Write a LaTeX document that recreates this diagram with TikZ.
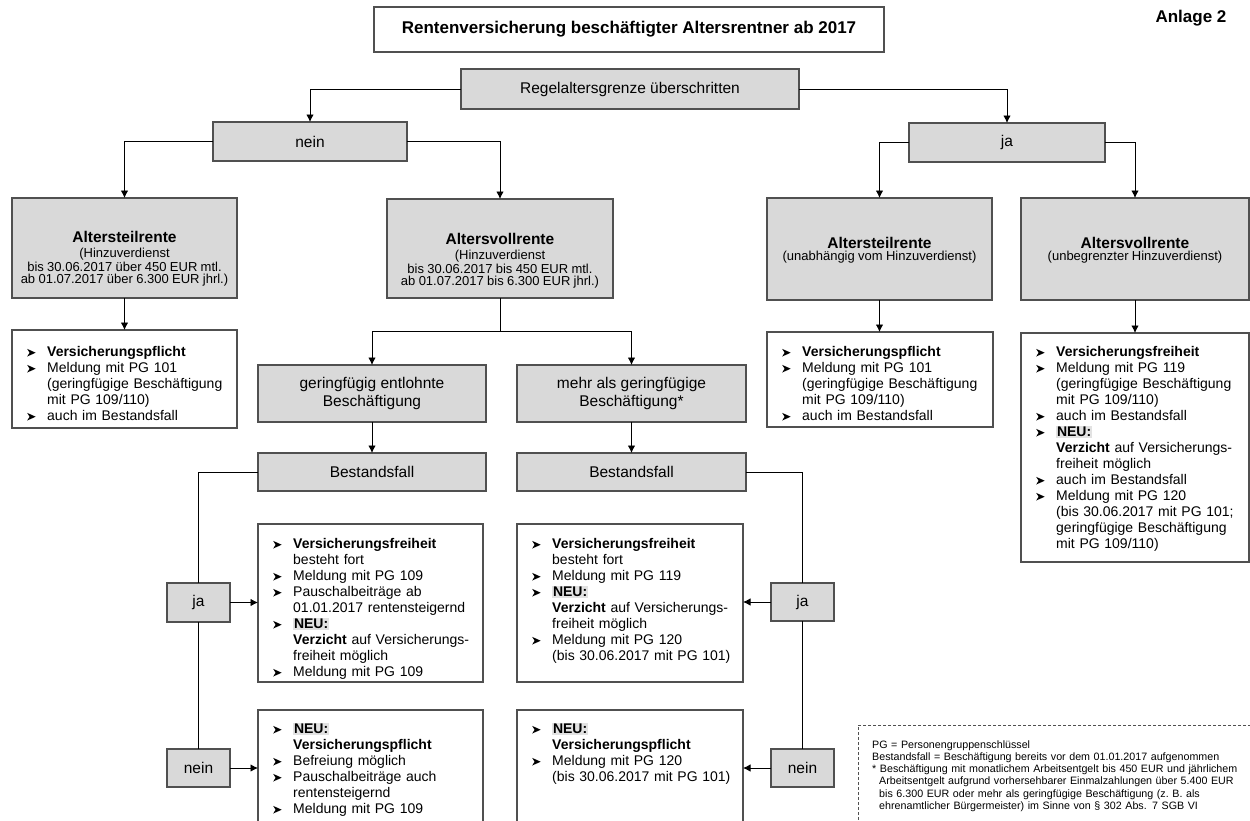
\documentclass[tikz,border=0pt]{standalone}
\usepackage{fontspec}
\setmainfont{Liberation Sans}
\usetikzlibrary{arrows.meta,calc}
\definecolor{boxgray}{HTML}{D9D9D9}
\definecolor{neugray}{HTML}{E2E2E2}
\definecolor{bord}{HTML}{505050}
\newcommand\mybul{\tikz[x=1pt,y=1pt,baseline=0pt]\fill[black] (0,0.2)--(8.5,4)--(0,7.8)--(2.4,4)--cycle;}
\newcommand\nl{\unskip\nobreak\hfil\break}
\newcommand\itm{\par\hangindent=20pt\hangafter=1\noindent\rule{0pt}{11pt}\makebox[20pt][l]{\mybul}}
\newcommand\neu{{\setlength\fboxsep{0.8pt}\colorbox{neugray}{\textbf{NEU:}}}}
\begin{document}
\begin{tikzpicture}[x=1pt,y=-1pt,
  bx/.style={draw=bord, line width=1.2pt, inner sep=0pt, outer sep=0pt},
  gbox/.style={bx, fill=boxgray, font=\fontsize{15.5}{18}\selectfont, align=center},
  wbox/.style={bx, fill=white},
  sub/.style={inner sep=0pt, text width=222pt, align=center},
  lst/.style={anchor=north west, inner sep=0pt, text width=215pt, align=left, font=\fontsize{14}{16}\selectfont},
  conn/.style={draw=black, line width=0.9pt, -{Latex[length=7.5pt,width=7.5pt]}},
  ln/.style={draw=black, line width=0.9pt}
]
\useasboundingbox (0,0) rectangle (1250,820);
\fill[white] (0,0) rectangle (1250,820);
\clip (0,0) rectangle (1250,820);

% title
\node[wbox, minimum width=510pt, minimum height=45pt, font=\fontsize{17}{20}\selectfont\bfseries] (T) at (629,29.5) {Rentenversicherung beschäftigter Altersrentner ab 2017};
\node[inner sep=0pt, font=\fontsize{17}{20}\selectfont\bfseries] (anl) at (1191,18) {Anlage 2};

% top decision
\node[gbox, minimum width=338pt, minimum height=40pt] (R) at (630,89) {Regelaltersgrenze überschritten};
\node[gbox, minimum width=194pt, minimum height=39pt] (nein) at (310,141.5) {nein};
\node[gbox, minimum width=196pt, minimum height=39pt] (ja) at (1007,142.5) {ja};

% second row
\node[gbox, minimum width=225pt, minimum height=100pt] (A) at (124.5,248) {};
\node[sub] (At) at (124.5,259) {{\fontsize{15.5}{15}\selectfont\bfseries Altersteilrente\par}
\fontsize{13}{14.5}\selectfont (Hinzuverdienst\\bis 30.06.2017 über 450 EUR mtl.\\ab 01.07.2017 über 6.300 EUR jhrl.)};
\node[gbox, minimum width=226pt, minimum height=99pt] (B) at (500,248.5) {};
\node[sub] (Bt) at (500,261) {{\fontsize{15.5}{15}\selectfont\bfseries Altersvollrente\par}
\fontsize{13}{14.5}\selectfont (Hinzuverdienst\\bis 30.06.2017 bis 450 EUR mtl.\\ab 01.07.2017 bis 6.300 EUR jhrl.)};
\node[gbox, minimum width=225pt, minimum height=102pt] (C) at (879.5,249) {};
\node[sub] (Ct) at (879.5,250) {{\fontsize{15.5}{15}\selectfont\bfseries Altersteilrente\par}
\fontsize{13}{14}\selectfont (unabhängig vom Hinzuverdienst)};
\node[gbox, minimum width=228pt, minimum height=102pt] (D) at (1135,249) {};
\node[sub] (Dt) at (1135,250) {{\fontsize{15.5}{15}\selectfont\bfseries Altersvollrente\par}
\fontsize{13}{14}\selectfont (unbegrenzter Hinzuverdienst)};

% bullet boxes right and left
\node[wbox, minimum width=225pt, minimum height=98pt] (E) at (124.5,379) {};
\node[lst] (Et) at (27,340.5) {\itm\textbf{Versicherungspflicht}
\itm Meldung mit PG 101\nl(geringfügige Beschäftigung\nl mit PG 109/110)
\itm auch im Bestandsfall\par};
\node[wbox, minimum width=226pt, minimum height=95pt] (F) at (880,379.5) {};
\node[lst] (Ft) at (782,340.5) {\itm\textbf{Versicherungspflicht}
\itm Meldung mit PG 101\nl(geringfügige Beschäftigung\nl mit PG 109/110)
\itm auch im Bestandsfall\par};
\node[wbox, minimum width=228pt, minimum height=229pt] (G) at (1135,447.5) {};
\node[lst] (Gt) at (1036,340.5) {\itm\textbf{Versicherungsfreiheit}
\itm Meldung mit PG 119\nl(geringfügige Beschäftigung\nl mit PG 109/110)
\itm auch im Bestandsfall
\itm\neu\nl\textbf{Verzicht} auf Versicherungs-\nl freiheit möglich
\itm auch im Bestandsfall
\itm Meldung mit PG 120\nl(bis 30.06.2017 mit PG 101;\nl geringfügige Beschäftigung\nl mit PG 109/110)\par};

% middle branch
\node[gbox, minimum width=228pt, minimum height=57pt] (H) at (372,393.5) {geringfügig entlohnte\\Beschäftigung};
\node[gbox, minimum width=229pt, minimum height=57pt] (I) at (631.5,393.5) {mehr als geringfügige\\Beschäftigung*};
\node[gbox, minimum width=228pt, minimum height=38pt] (J) at (372,472) {Bestandsfall};
\node[gbox, minimum width=229pt, minimum height=38pt] (K) at (631.5,472) {Bestandsfall};

\node[gbox, minimum width=63pt, minimum height=39pt] (ja1) at (198.5,602.5) {ja};
\node[gbox, minimum width=63pt, minimum height=38pt] (nein1) at (198.5,768) {nein};
\node[gbox, minimum width=63pt, minimum height=38pt] (ja2) at (802.5,602) {ja};
\node[gbox, minimum width=63pt, minimum height=38pt] (nein2) at (802.5,768) {nein};

\node[wbox, minimum width=225pt, minimum height=158pt] (L) at (370.5,603) {};
\node[lst] (Lt) at (273,532.5) {\itm\textbf{Versicherungsfreiheit}\nl besteht fort
\itm Meldung mit PG 109
\itm Pauschalbeiträge ab\nl 01.01.2017 rentensteigernd
\itm\neu\nl\textbf{Verzicht} auf Versicherungs-\nl freiheit möglich
\itm Meldung mit PG 109\par};
\node[wbox, minimum width=226pt, minimum height=158pt] (N) at (630,603) {};
\node[lst] (Nt) at (532,532.5) {\itm\textbf{Versicherungsfreiheit}\nl besteht fort
\itm Meldung mit PG 119
\itm\neu\nl\textbf{Verzicht} auf Versicherungs-\nl freiheit möglich
\itm Meldung mit PG 120\nl(bis 30.06.2017 mit PG 101)\par};
\node[wbox, minimum width=225pt, minimum height=130pt] (M) at (370.5,775) {};
\node[lst] (Mt) at (273,717.5) {\itm\neu\nl\textbf{Versicherungspflicht}
\itm Befreiung möglich
\itm Pauschalbeiträge auch\nl rentensteigernd
\itm Meldung mit PG 109\par};
\node[wbox, minimum width=226pt, minimum height=130pt] (O) at (630,775) {};
\node[lst] (Ot) at (532,717.5) {\itm\neu\nl\textbf{Versicherungspflicht}
\itm Meldung mit PG 120\nl(bis 30.06.2017 mit PG 101)\par};

% footnote
\node[draw=bord, line width=1pt, dash pattern=on 3pt off 2pt, inner sep=0pt, minimum width=404pt, minimum height=115pt] (P) at (1060,782.5) {};
\node[anchor=north west, inner sep=0pt, text width=385pt, align=left, font=\fontsize{10.7}{12.2}\selectfont] (Pt) at (872,740) {\rule{0pt}{8pt}PG = Personengruppenschlüssel\par
Bestandsfall = Beschäftigung bereits vor dem 01.01.2017 aufgenommen\par
\hangindent=7pt\hangafter=1 * Beschäftigung mit monatlichem Arbeitsentgelt bis 450 EUR und jährlichem\nl Arbeitsentgelt aufgrund vorhersehbarer Einmalzahlungen über 5.400 EUR\nl bis 6.300 EUR oder mehr als geringfügige Beschäftigung (z.~B. als\nl ehrenamtlicher Bürgermeister) im Sinne von § 302 Abs. 7 SGB VI\par};

% connectors
\draw[conn] (R.west) -| (nein.north);
\draw[conn] (R.east) -| (ja.north);
\draw[conn] (nein.west) -| (A.north);
\draw[conn] (nein.east) -| (B.north);
\draw[conn] (ja.west) -| (C.north);
\draw[conn] (ja.east) -| (D.north);
\draw[conn] (A.south) -- (A.south |- E.north);
\draw[conn] (C.south) -- (C.south |- F.north);
\draw[conn] (D.south) -- (D.south |- G.north);
\coordinate (sp) at (500,331);
\draw[ln] (B.south) -- (sp);
\draw[conn] (sp) -| (H.north);
\draw[conn] (sp) -| (I.north);
\draw[conn] (H.south) -- (J.north);
\draw[conn] (I.south) -- (K.north);
\draw[ln] (J.west) -| (ja1.north);
\draw[ln] (ja1.south) -- (nein1.north);
\draw[conn] (ja1.east) -- (ja1.east -| L.west);
\draw[conn] (nein1.east) -- (nein1.east -| M.west);
\draw[ln] (K.east) -| (ja2.north);
\draw[ln] (ja2.south) -- (nein2.north);
\draw[conn] (ja2.west) -- (ja2.west -| N.east);
\draw[conn] (nein2.west) -- (nein2.west -| O.east);
\end{tikzpicture}
\end{document}
